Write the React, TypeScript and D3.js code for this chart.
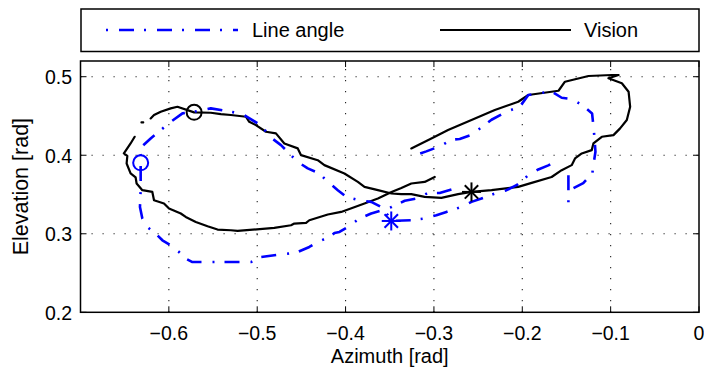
import React from "react";
import * as d3 from "d3";

// Vision track (azimuth / elevation, rad). NaN marks a gap in the data.
const visionAz = [
  -0.3256, -0.3029, -0.284, -0.2575, -0.2311, -0.2046, -0.1932, -0.159, -0.1517, -0.1251,
  -0.0987, -0.091, -0.1025, -0.0873, -0.0797, -0.0779, -0.0817, -0.0893, -0.0968, -0.11,
  -0.1195, -0.1214, -0.1327, -0.1403, -0.1441, -0.1554, -0.1668, -0.1894, -0.2046, -0.2348,
  -0.2575, -0.2726, -0.2916, -0.3105, -0.3256, -0.337, -0.348, -0.3634, -0.3786, -0.3861,
  -0.4013, -0.424, -0.4315, -0.4504, -0.4541, -0.4693, -0.4788, -0.4901, -0.5015, -0.509,
  -0.5128, -0.5298, -0.5412, -0.5525, -0.5714, -0.5903, -0.5979, -0.6092, -0.6168, -0.6206,
  NaN, -0.631, -0.629, NaN,
  -0.6387, -0.6433, -0.6509, -0.647, -0.6478, -0.6433, -0.6376, -0.6365, -0.63, -0.6187,
  -0.6168, -0.6055, -0.5998, -0.5865, -0.5809, -0.5695, -0.5562, -0.5449, -0.5298, -0.5222,
  -0.4807, -0.4617, -0.458, -0.4447, -0.441, -0.4201, -0.405, -0.3786, -0.3634, -0.348,
  -0.3369, -0.3256, -0.3105, -0.2991,
];
const visionEl = [
  0.4087, 0.4214, 0.432, 0.4448, 0.4575, 0.4681, 0.4767, 0.4821, 0.4936, 0.5009,
  0.5022, 0.5022, 0.498, 0.4916, 0.4809, 0.4617, 0.4448, 0.4342, 0.4256, 0.4235,
  0.415, 0.4065, 0.4023, 0.3959, 0.3874, 0.381, 0.3723, 0.3648, 0.3597, 0.3555,
  0.3533, 0.3504, 0.3457, 0.347, 0.3504, 0.3504, 0.3513, 0.3555, 0.3597, 0.3661,
  0.3768, 0.3874, 0.3937, 0.4001, 0.4087, 0.415, 0.4278, 0.4299, 0.4384, 0.4426,
  0.449, 0.4512, 0.4524, 0.4541, 0.4546, 0.4617, 0.4597, 0.4554, 0.4512, 0.4469,
  NaN, 0.4418, 0.4418, NaN,
  0.4235, 0.415, 0.4023, 0.3992, 0.3895, 0.3768, 0.3717, 0.364, 0.3555, 0.3533,
  0.3427, 0.3385, 0.3321, 0.3258, 0.3214, 0.3151, 0.3096, 0.3054, 0.3045, 0.3036,
  0.3074, 0.3108, 0.313, 0.3138, 0.3172, 0.3245, 0.3278, 0.3385, 0.3449, 0.3533,
  0.3584, 0.364, 0.366, 0.3724,
];

// Line angle track
const lineAz = [
  -0.2802, -0.2935, -0.3067, -0.3188, -0.333, -0.348, -0.358, -0.371, -0.3842, -0.3975,
  -0.4069, -0.4126, -0.4183, -0.4315, -0.441, -0.4541, -0.4655, -0.4807, -0.4958, -0.5071,
  -0.5185, -0.5733, -0.5809, -0.5885, -0.5979, -0.6073, -0.6149, -0.6244, -0.63, -0.6327,
  -0.6319, -0.6319, -0.6319, -0.6339, -0.63, -0.6206, -0.6092, -0.5979, -0.5846, -0.5714,
  -0.5525, -0.5298, -0.5166, -0.4958, -0.4844, -0.4731, -0.4637, -0.4541, -0.4428, -0.4296,
  -0.4201, -0.4088, -0.3993, -0.3842, -0.371, -0.3596, -0.3521, -0.3483, -0.3256, -0.3105,
  -0.2972, -0.2859, -0.2689, -0.2575, -0.2462, -0.2311, -0.2178, -0.2065, -0.1932, -0.1819,
  -0.1705, -0.1668, -0.163, -0.163,
  NaN, -0.1478, -0.1478,
  NaN, -0.142, -0.131, -0.1207, -0.119, -0.1172, -0.1184, -0.1196, -0.121, -0.1324, -0.1441,
  -0.1554, -0.1668, -0.1818, -0.1932, -0.2027, -0.2178, -0.2348, -0.2424, -0.2575, -0.2708,
  -0.2802, -0.2935, -0.3086, -0.3199,
];
const lineEl = [
  0.3564, 0.352, 0.352, 0.345, 0.342, 0.334, 0.33, 0.3258, 0.3194, 0.3087,
  0.3023, 0.301, 0.2959, 0.2895, 0.2832, 0.2768, 0.2747, 0.2726, 0.2704, 0.264,
  0.264, 0.264, 0.2684, 0.2768, 0.2853, 0.2917, 0.3002, 0.3087, 0.3194, 0.3342,
  0.3555, 0.3903, 0.4001, 0.4074, 0.4116, 0.4214, 0.432, 0.4426, 0.4533, 0.4554,
  0.4597, 0.4554, 0.4524, 0.438, 0.4224, 0.4129, 0.4023, 0.3916, 0.3832, 0.3768,
  0.3661, 0.3555, 0.347, 0.3427, 0.3406, 0.334, 0.3236, 0.3163, 0.3172, 0.3194,
  0.3236, 0.3278, 0.3342, 0.3406, 0.3449, 0.3513, 0.3555, 0.3619, 0.3746, 0.3819,
  0.3871, 0.3895, 0.3895, 0.383,
  NaN, 0.3746, 0.3364,
  NaN, 0.358, 0.3645, 0.377, 0.391, 0.4044, 0.4235, 0.4378, 0.4533, 0.4639, 0.4717,
  0.4732, 0.481, 0.479, 0.4767, 0.4618, 0.4554, 0.4452, 0.4388, 0.426, 0.4207,
  0.4198, 0.4113, 0.4049, 0.4006,
];

// markers: circle = o, star = *
const lineCircle = [-0.6319, 0.3903];
const lineStar = [-0.3483, 0.3163];
const visionCircle = [-0.5714, 0.4546];
const visionStar = [-0.2575, 0.3533];

const xTicks = [-0.6, -0.5, -0.4, -0.3, -0.2, -0.1, 0];
const yTicks = [0.2, 0.3, 0.4, 0.5];
const xDomain = [-0.7, 0];
const yDomain = [0.2, 0.52];

const BLUE = "#0000ff";
const FONT = "'Liberation Sans', Arial, sans-serif";
const DASHDOT = "15,10,2,11";

function Star({ cx, cy, r, color }: { cx: number; cy: number; r: number; color: string }) {
  const d = r * Math.SQRT1_2;
  return (
    <g stroke={color} strokeWidth={2}>
      <line x1={cx - r} y1={cy} x2={cx + r} y2={cy} />
      <line x1={cx} y1={cy - r} x2={cx} y2={cy + r} />
      <line x1={cx - d} y1={cy - d} x2={cx + d} y2={cy + d} />
      <line x1={cx - d} y1={cy + d} x2={cx + d} y2={cy - d} />
    </g>
  );
}

export default function App() {
  const width = 704;
  const height = 373;
  const m = { left: 80.5, right: 699, top: 61, bottom: 312.3 };

  const x = d3.scaleLinear().domain(xDomain).range([m.left, m.right]);
  const y = d3.scaleLinear().domain(yDomain).range([m.bottom, m.top]);

  const line = d3
    .line<[number, number]>()
    .defined((d) => !isNaN(d[0]) && !isNaN(d[1]))
    .x((d) => x(d[0]))
    .y((d) => y(d[1]));

  const vision = visionAz.map((a, i) => [a, visionEl[i]] as [number, number]);
  const lineAngle = lineAz.map((a, i) => [a, lineEl[i]] as [number, number]);

  const tick = 6;

  return (
    <svg
      width={width}
      height={height}
      style={{ position: "absolute", left: 0, top: 0, background: "#fff" }}
      fontFamily={FONT}
    >
      {/* grid */}
      <g stroke="#222" strokeWidth={1.1} strokeDasharray="1.2,9.8">
        {xTicks.slice(0, -1).map((t) => (
          <line key={"gx" + t} x1={x(t)} x2={x(t)} y1={m.bottom} y2={m.top} />
        ))}
        {yTicks.slice(1).map((t) => (
          <line key={"gy" + t} x1={m.left} x2={m.right} y1={y(t)} y2={y(t)} />
        ))}
      </g>

      {/* ticks, inside on all four sides */}
      <g stroke="#000" strokeWidth={1}>
        {xTicks.map((t) => (
          <g key={"tx" + t}>
            <line x1={x(t)} x2={x(t)} y1={m.bottom} y2={m.bottom - tick} />
            <line x1={x(t)} x2={x(t)} y1={m.top} y2={m.top + tick} />
          </g>
        ))}
        {yTicks.map((t) => (
          <g key={"ty" + t}>
            <line x1={m.left} x2={m.left + tick} y1={y(t)} y2={y(t)} />
            <line x1={m.right} x2={m.right - tick} y1={y(t)} y2={y(t)} />
          </g>
        ))}
      </g>

      {/* data */}
      <path d={line(vision) || ""} fill="none" stroke="#000" strokeWidth={2.2} strokeLinejoin="round" strokeLinecap="round" />
      <path d={line(lineAngle) || ""} fill="none" stroke={BLUE} strokeWidth={2.6} strokeDasharray={DASHDOT} strokeLinejoin="round" />

      <circle cx={x(visionCircle[0])} cy={y(visionCircle[1])} r={7.5} fill="none" stroke="#000" strokeWidth={2} />
      <circle cx={x(lineCircle[0])} cy={y(lineCircle[1])} r={7.5} fill="none" stroke={BLUE} strokeWidth={2} />
      <Star cx={x(visionStar[0])} cy={y(visionStar[1])} r={9.5} color="#000" />
      <Star cx={x(lineStar[0])} cy={y(lineStar[1])} r={9.5} color={BLUE} />

      {/* axes box */}
      <rect x={m.left} y={m.top} width={m.right - m.left} height={m.bottom - m.top} fill="none" stroke="#000" strokeWidth={1.5} />

      {/* tick labels */}
      <g fontSize={19.5} fill="#000">
        {xTicks.map((t) => (
          <text key={"lx" + t} x={x(t)} y={340} textAnchor="middle">
            {t === 0 ? "0" : "\u2212" + Math.abs(t).toFixed(1)}
          </text>
        ))}
        {yTicks.map((t) => (
          <text key={"ly" + t} x={72} y={y(t) + 7.5} textAnchor="end">
            {t.toFixed(1)}
          </text>
        ))}
      </g>

      {/* axis labels */}
      <text x={(m.left + m.right) / 2} y={363} textAnchor="middle" fontSize={20}>
        Azimuth [rad]
      </text>
      <text transform={`translate(28,${(m.top + m.bottom) / 2}) rotate(-90)`} textAnchor="middle" fontSize={21.5}>
        Elevation [rad]
      </text>

      {/* legend */}
      <rect x={81} y={9} width={618} height={42.5} fill="#fff" stroke="#000" strokeWidth={1.5} />
      <line x1={106} x2={238} y1={30} y2={30} stroke={BLUE} strokeWidth={2.6} strokeDasharray="2,11,15,10" />
      <text x={252} y={37} fontSize={20}>Line angle</text>
      <line x1={440} x2={571} y1={30} y2={30} stroke="#000" strokeWidth={2.2} />
      <text x={584} y={37} fontSize={20}>Vision</text>
    </svg>
  );
}
